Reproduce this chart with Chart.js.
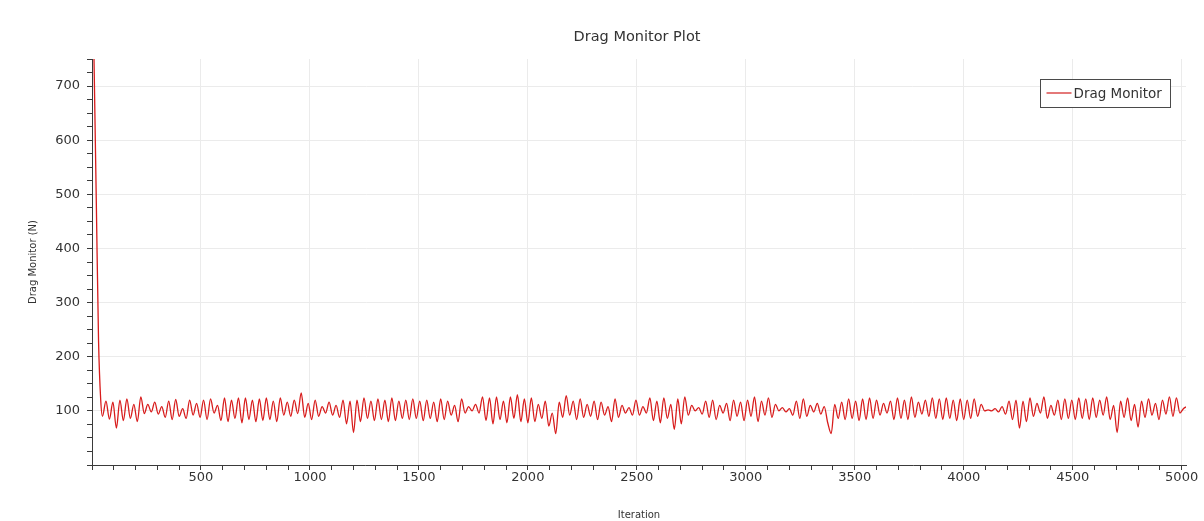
<!DOCTYPE html>
<html>
<head>
<meta charset="utf-8">
<title>Drag Monitor Plot</title>
<script src="https://cdn.jsdelivr.net/npm/chart.js@4/dist/chart.umd.min.js"></script>
<style>
  html, body { margin: 0; padding: 0; background: #fff; }
  #wrap { width: 1204px; height: 521px; }
</style>
</head>
<body>
<div id="wrap"><canvas id="dragplot" width="1204" height="521"></canvas></div>
<script>
// start-up transient (iteration, drag in N)
const startIterations = [0, 10, 20, 30, 40];
const startValues = [980, 730, 480, 230, 120];

// monitor samples from iteration 48 on, every 16 iterations (drag in N)
const firstSampleIteration = 48;
const sampleStep = 16;
const dragValues = [
    // 48 - 512
    90, 118, 85, 116, 68, 120, 82, 122, 86, 112, 80, 126, 95, 112, 98, 116, 94, 108, 88, 118,
    84, 121, 90, 104, 86, 120, 92, 114, 88, 120,
    // 528 - 1008
    84, 122, 96, 110, 82, 124, 80, 120, 86, 124, 78, 124, 84, 120, 80, 122, 82, 124, 84, 118,
    80, 124, 92, 116, 90, 120, 95, 133, 88, 114, 84,
    // 1024 - 1504
    120, 90, 108, 96, 116, 92, 110, 88, 120, 76, 118, 60, 120, 80, 124, 86, 118, 82, 122, 84,
    120, 80, 124, 82, 118, 86, 120, 84, 122, 86, 118,
    // 1520 - 2000
    82, 120, 86, 116, 80, 122, 84, 118, 92, 110, 80, 122, 96, 108, 100, 112, 96, 126, 82, 124,
    76, 126, 84, 118, 78, 126, 86, 130, 80, 122, 78,
    // 2016 - 2496
    124, 80, 112, 86, 118, 72, 96, 58, 116, 88, 128, 92, 118, 84, 122, 88, 112, 90, 118, 84,
    116, 92, 108, 80, 122, 88, 110, 96, 106, 92, 120,
    // 2512 - 2992
    92, 108, 96, 124, 82, 118, 78, 124, 86, 112, 66, 122, 76, 126, 92, 110, 100, 106, 94, 118,
    88, 120, 84, 110, 96, 114, 82, 120, 90, 116, 82,
    // 3008 - 3488
    120, 90, 126, 80, 118, 92, 124, 88, 112, 100, 106, 98, 104, 92, 118, 86, 122, 90, 110, 98,
    114, 94, 108, 78, 58, 112, 86, 116, 84, 122, 86,
    // 3504 - 3984
    118, 82, 122, 84, 124, 86, 120, 92, 114, 96, 118, 84, 124, 86, 120, 84, 126, 88, 116, 94,
    120, 90, 124, 86, 122, 84, 124, 86, 120, 82, 122,
    // 4000 - 4480
    84, 120, 86, 122, 90, 112, 100, 102, 100, 104, 98, 108, 94, 118, 84, 120, 68, 118, 80, 124,
    90, 114, 96, 126, 86, 110, 92, 120, 84, 122, 86,
    // 4496 - 5024
    120, 84, 124, 86, 122, 84, 124, 88, 120, 92, 126, 84, 110, 60, 118, 88, 124, 82, 112, 70,
    118, 88, 122, 92, 114, 84, 120, 94, 126, 90, 124, 96, 104, 108
];

const xMin = 0;
const xMax = 5020;
const yMin = 0;
const yMax = 750;
const xMajorStep = 500;
const xMinorStep = 100;
const yMajorStep = 100;
const yMinorStep = 25;

const titleText = 'Drag Monitor Plot';
const seriesLabel = 'Drag Monitor';
const xTitle = 'Iteration';
const yTitle = 'Drag Monitor (N)';

const lineColor = 'rgb(216, 28, 28)';
const legendLineColor = 'rgb(214, 48, 48)';
const gridColor = '#ebebeb';
const axisColor = '#3a3a3a';
const textColor = '#333';
const fontFamily = '"DejaVu Sans", Verdana, sans-serif';

const points = startIterations.map((it, i) => ({ x: it, y: startValues[i] }));
dragValues.forEach((v, i) => {
    points.push({ x: firstSampleIteration + i * sampleStep, y: v });
});

const isMultiple = (v, step) => Math.abs(v / step - Math.round(v / step)) < 1e-6;

// title centred over the plot area (not the whole canvas)
const plotTitle = {
    id: 'plotTitle',
    afterDraw(chart) {
        const { ctx, chartArea } = chart;
        ctx.save();
        ctx.font = '14.5px ' + fontFamily;
        ctx.fillStyle = textColor;
        ctx.textAlign = 'center';
        ctx.textBaseline = 'middle';
        ctx.fillText(titleText, (chartArea.left + chartArea.right) / 2 - 2, 37);
        ctx.restore();
    },
};

// boxed legend sitting inside the plot, top right
const boxLegend = {
    id: 'boxLegend',
    afterDraw(chart) {
        const { ctx, chartArea } = chart;
        const ds = chart.data.datasets[0];
        const w = 130, h = 28;
        const x = chartArea.right - 145.5;
        const y = chartArea.top + 20.5;
        ctx.save();
        ctx.fillStyle = '#fff';
        ctx.fillRect(x, y, w, h);
        ctx.strokeStyle = '#4a4a4a';
        ctx.lineWidth = 1;
        ctx.strokeRect(x, y, w, h);
        ctx.strokeStyle = legendLineColor;
        ctx.lineWidth = 1.3;
        ctx.beginPath();
        ctx.moveTo(x + 6, y + 13.5);
        ctx.lineTo(x + 31, y + 13.5);
        ctx.stroke();
        ctx.font = '13.5px ' + fontFamily;
        ctx.fillStyle = textColor;
        ctx.textAlign = 'left';
        ctx.textBaseline = 'middle';
        ctx.fillText(ds.label, x + 33, y + h / 2 + 1);
        ctx.restore();
    },
};

const ctx = document.getElementById('dragplot').getContext('2d');

new Chart(ctx, {
    type: 'line',
    data: {
        datasets: [
            {
                label: seriesLabel,
                data: points,
                borderColor: lineColor,
                borderWidth: 1.3,
                pointRadius: 0,
                fill: false,
                cubicInterpolationMode: 'monotone',
            },
        ],
    },
    options: {
        responsive: false,
        animation: false,
        devicePixelRatio: 1,
        layout: { padding: { top: 59, right: 18, bottom: 0, left: 0 } },
        plugins: {
            legend: { display: false },
            title: { display: false },
            tooltip: { enabled: false },
        },
        scales: {
            x: {
                type: 'linear',
                min: xMin,
                max: xMax,
                afterFit(scale) { scale.height = 56; },
                border: { color: axisColor, width: 1 },
                grid: {
                    color: (c) => (c.tick && isMultiple(c.tick.value, xMajorStep) && c.tick.value !== 0 ? gridColor : 'transparent'),
                    tickColor: axisColor,
                    tickLength: 5,
                },
                ticks: {
                    stepSize: xMinorStep,
                    includeBounds: false,
                    autoSkip: false,
                    maxRotation: 0,
                    padding: 0,
                    color: textColor,
                    font: { family: fontFamily, size: 13 },
                    callback: (v) => (v !== 0 && isMultiple(v, xMajorStep) ? String(v) : ''),
                },
                title: {
                    display: true,
                    text: xTitle,
                    color: textColor,
                    font: { family: fontFamily, size: 10 },
                    padding: { top: 7, bottom: 0 },
                },
            },
            y: {
                type: 'linear',
                min: yMin,
                max: yMax,
                afterFit(scale) { scale.width = 92; },
                border: { color: axisColor, width: 1 },
                grid: {
                    color: (c) => (c.tick && isMultiple(c.tick.value, yMajorStep) && c.tick.value !== 0 ? gridColor : 'transparent'),
                    tickColor: axisColor,
                    tickLength: 5,
                },
                ticks: {
                    stepSize: yMinorStep,
                    includeBounds: false,
                    autoSkip: false,
                    padding: 7,
                    color: textColor,
                    font: { family: fontFamily, size: 13 },
                    callback: (v) => (v !== 0 && isMultiple(v, yMajorStep) ? String(v) : ''),
                },
                title: {
                    display: true,
                    text: yTitle,
                    color: textColor,
                    font: { family: fontFamily, size: 10 },
                    padding: { top: 27, bottom: 0 },
                },
            },
        },
    },
    plugins: [plotTitle, boxLegend],
});
</script>
</body>
</html>
